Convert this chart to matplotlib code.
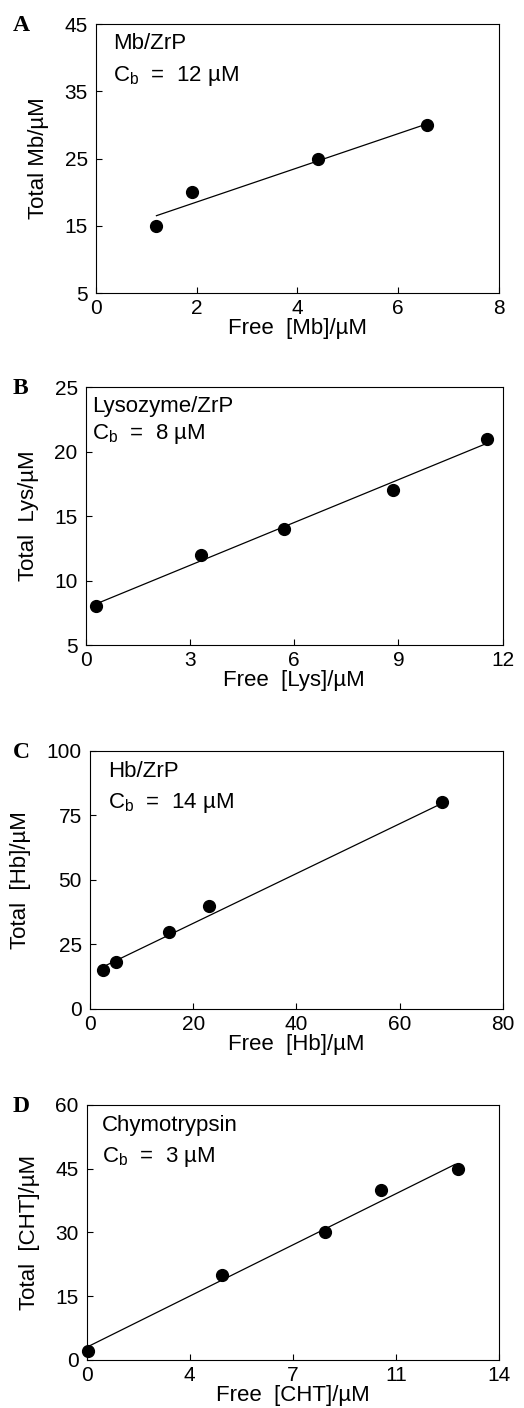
import matplotlib
matplotlib.use('Agg')
import matplotlib.pyplot as plt

# panel A: Mb/ZrP
mb_free = [1.2, 1.9, 4.4, 6.58]
mb_total = [15, 20, 25, 30]
mb_fit_x = [1.2, 6.55]
mb_fit_y = [16.5, 30.1]

# panel B: Lysozyme/ZrP
lys_free = [0.3, 3.3, 5.7, 8.85, 11.55]
lys_total = [8, 12, 14, 17, 21]
lys_fit_x = [0.3, 11.5]
lys_fit_y = [8.2, 20.6]

# panel C: Hb/ZrP
hb_free = [2.5, 5.0, 15.4, 23.1, 68.2]
hb_total = [15, 18, 30, 40, 80]
hb_fit_x = [2.5, 68.2]
hb_fit_y = [16.3, 79.6]

# panel D: chymotrypsin
cht_free = [0.05, 4.6, 8.1, 10.0, 12.6]
cht_total = [2, 20, 30, 40, 45]
cht_fit_x = [0.0, 12.5]
cht_fit_y = [3.0, 46.0]

panels = [
    dict(letter='A', x=mb_free, y=mb_total, fx=mb_fit_x, fy=mb_fit_y,
         xlim=(0, 8), ylim=(5, 45), xt=[0, 2, 4, 6, 8], xtl=['0', '2', '4', '6', '8'],
         yt=[5, 15, 25, 35, 45], name='Mb/ZrP', cb='12', xl='Free  [Mb]/µM', yl='Total Mb/µM',
         rect=[0.1832, 0.7919, 0.769, 0.191], tpos=(0.042, 0.965, 0.85)),
    dict(letter='B', x=lys_free, y=lys_total, fx=lys_fit_x, fy=lys_fit_y,
         xlim=(0, 12), ylim=(5, 25), xt=[0, 3, 6, 9, 12], xtl=['0', '3', '6', '9', '12'],
         yt=[5, 10, 15, 20, 25], name='Lysozyme/ZrP', cb='8', xl='Free  [Lys]/µM', yl='Total  Lys/µM',
         rect=[0.1641, 0.5419, 0.795, 0.183], tpos=(0.014, 0.965, 0.865)),
    dict(letter='C', x=hb_free, y=hb_total, fx=hb_fit_x, fy=hb_fit_y,
         xlim=(0, 80), ylim=(0, 100), xt=[0, 20, 40, 60, 80], xtl=['0', '20', '40', '60', '80'],
         yt=[0, 25, 50, 75, 100], name='Hb/ZrP', cb='14', xl='Free  [Hb]/µM', yl='Total  [Hb]/µM',
         rect=[0.1718, 0.2834, 0.7875, 0.1834], tpos=(0.044, 0.96, 0.845)),
    dict(letter='D', x=cht_free, y=cht_total, fx=cht_fit_x, fy=cht_fit_y,
         xlim=(0, 14), ylim=(0, 60), xt=[0, 3.5, 7, 10.5, 14], xtl=['0', '4', '7', '11', '14'],
         yt=[0, 15, 30, 45, 60], name='Chymotrypsin', cb='3', xl='Free  [CHT]/µM', yl='Total  [CHT]/µM',
         rect=[0.1655, 0.0341, 0.7868, 0.1811], tpos=(0.036, 0.96, 0.845)),
]

plt.rcParams['font.family'] = ['Liberation Sans', 'DejaVu Sans']
fig = plt.figure(figsize=(5.24, 14.08), dpi=100)

for p in panels:
    ax = fig.add_axes(p['rect'])
    ax.plot(p['fx'], p['fy'], color='black', lw=0.9)
    ax.plot(p['x'], p['y'], 'o', color='black', ms=8.5, clip_on=False)
    ax.set_xlim(p['xlim'])
    ax.set_ylim(p['ylim'])
    ax.set_xticks(p['xt'])
    ax.set_xticklabels(p['xtl'])
    ax.set_yticks(p['yt'])
    ax.tick_params(direction='in', length=4, width=0.8, labelsize=15, top=False, right=False)
    ax.tick_params(axis='x', pad=4)
    ax.tick_params(axis='y', pad=6)
    for s in ax.spines.values():
        s.set_linewidth(0.8)
    ax.set_xlabel(p['xl'], fontsize=16, labelpad=0)
    ax.set_ylabel(p['yl'], fontsize=16, labelpad=11)
    tx, t1, t2 = p['tpos']
    ax.text(tx, t1, p['name'], transform=ax.transAxes, fontsize=16, va='top', ha='left')
    ax.text(tx, t2, r'$\mathregular{C_b}$  =  ' + p['cb'] + ' µM', transform=ax.transAxes,
            fontsize=16, va='top', ha='left')
    # panel letter
    bb = p['rect']
    fig.text(0.024, bb[1] + bb[3] - 0.001, p['letter'], fontsize=17, fontweight='bold',
             family='Liberation Serif', va='center', ha='left')

plt.savefig('out.png', dpi=100)
